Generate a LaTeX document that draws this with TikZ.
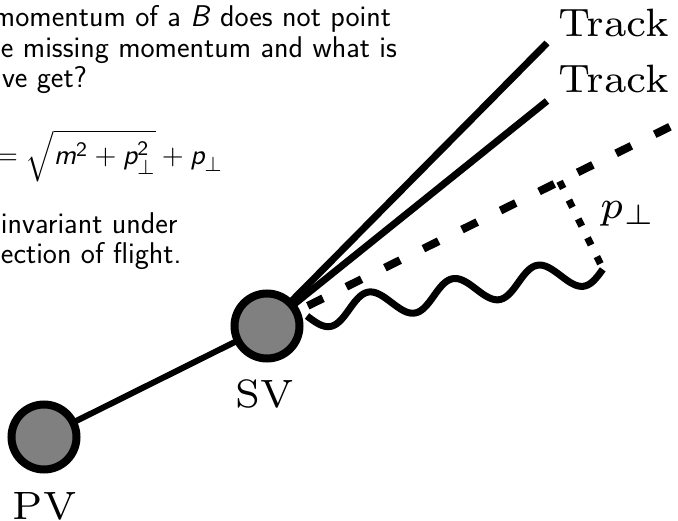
\documentclass[tikz,border=0pt]{standalone}
\usepackage{amsmath}
\usetikzlibrary{calc}
\newcommand\mysans[1]{{\fontsize{30}{31}\selectfont\sffamily #1}}
\newcommand\myeq[1]{\scalebox{2.57}{\fontsize{10.95}{13}\selectfont\sffamily #1}}
\newcommand\myserif[1]{\scalebox{5.65}{\fontsize{7}{8}\selectfont #1}}
\begin{document}
\begin{tikzpicture}[x=1pt,y=-1pt,
  vtx/.style={circle,draw=black,fill=gray,line width=8pt,minimum size=65pt,inner sep=0pt},
  trk/.style={line width=7pt},
  link/.style={line width=6pt},
  dashline/.style={line width=8pt,dash pattern=on 17pt off 26pt,dash phase=34pt},
  dotline/.style={line width=7pt,dash pattern=on 8pt off 13pt},
  wave/.style={line width=7pt},
  txt/.style={anchor=base west,inner sep=0pt,outer sep=0pt},
  lbl/.style={anchor=base,inner sep=0pt,outer sep=0pt}]
\useasboundingbox (0,0) rectangle (678,521);
\clip (0,0) rectangle (678,521);
% text
\node[txt] (l1) at (-7,27) {\mysans{momentum of a \textsl{B} does not point}};
\node[txt] (l2) at (1,58) {\mysans{e missing momentum and what is}};
\node[txt] (l3) at (2,88) {\mysans{ve get?}};
\node[txt] (eq) at (-4,165) {\myeq{$=\sqrt{\text{\slshape m}^{\text{2}}+\text{\slshape p}_\perp^{\text{2}}}+\text{\slshape p}_\perp$}};
\node[txt] (l5) at (1,234) {\mysans{invariant under}};
\node[txt] (l6) at (1,264) {\mysans{ection of flight.}};
% geometry
\coordinate (svc) at (267,326);
\coordinate (pvc) at (44,437);
\coordinate (t1) at (547,43);
\coordinate (t2) at (547,101);
\coordinate (dend) at (720,102);
\coordinate (foot) at (603,269);
\draw[link] (pvc) -- (svc);
\draw[trk] (svc) -- (t1);
\draw[trk] (svc) -- (t2);
\node[vtx] (sv) at (svc) {};
\node[vtx] (pv) at (pvc) {};
\draw[dashline] (sv) -- (dend);
\draw[dotline] ($(svc)!(foot)!(dend)$) coordinate (corner) -- (foot);
\draw[wave] plot[domain=0:1,samples=140] ({307+296*\x+14*0.144*sin(1260*\x)},{316-47*\x+14*0.99*sin(1260*\x)});
% labels
\node[txt] (tr1) at (558,37) {\myserif{Track}};
\node[txt] (tr2) at (558,93) {\myserif{Track}};
\node[lbl] (svl) at (265,408) {\myserif{SV}};
\node[lbl] (pvl) at (44.5,519) {\myserif{PV}};
\node[txt] (pp) at (600,219) {\myserif{$p_\perp$}};
\end{tikzpicture}
\end{document}
